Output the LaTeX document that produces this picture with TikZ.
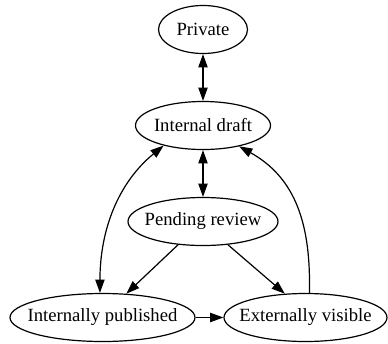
\documentclass[tikz,border=0pt]{standalone}
\usepackage{fontspec}
\setmainfont{Liberation Serif}
\usetikzlibrary{shapes.geometric,arrows.meta}
\tikzset{
  st/.style={ellipse, draw, line width=1.2pt, inner sep=0pt, minimum height=48pt,
    font=\fontsize{18.67}{22}\selectfont},
  edge/.style={line width=1.2pt, -{Triangle[length=13.3pt,width=9.3pt]}},
  bedge/.style={line width=1.2pt, {Triangle[length=13.3pt,width=9.3pt]}-{Triangle[length=13.3pt,width=9.3pt]}}
}
\begin{document}
\begin{tikzpicture}[x=1pt,y=-1pt]
\useasboundingbox (0,0) rectangle (388,343);
\node[st, minimum width=89pt] (priv) at (203,29.5) {\makebox[0pt]{Private}};
\node[st, minimum width=135pt] (draft) at (203,125.5) {\makebox[0pt]{Internal draft}};
\node[st, minimum width=150pt] (pend) at (203,221.5) {\makebox[0pt]{Pending review}};
\node[st, minimum width=185pt] (ip) at (102.5,317.5) {\makebox[0pt]{Internally published}};
\node[st, minimum width=163pt] (ev) at (305.5,317.5) {\makebox[0pt]{Externally visible}};
\draw[bedge] (priv.south) -- (draft.north);
\draw[bedge] (draft.south) -- (pend.north);
\draw[bedge] (draft.207) .. controls (118,183) and (100,230) .. (ip.96);
\draw[edge] (pend.223) -- (ip.45);
\draw[edge] (pend.317) -- (ev.131);
\draw[edge] (ip.east) -- (ev.west);
\draw[edge] (ev.81) .. controls (311,225) and (296,178) .. (draft.330);
\end{tikzpicture}
\end{document}
